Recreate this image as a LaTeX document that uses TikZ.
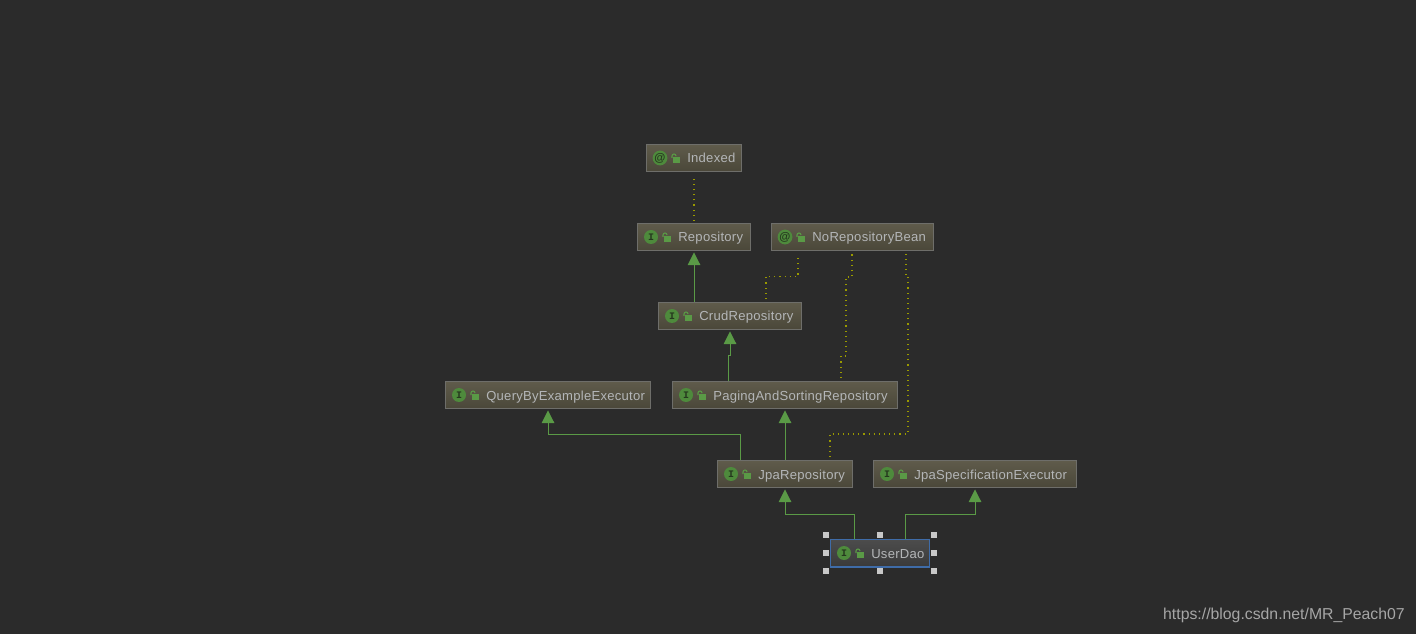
\documentclass[tikz,border=0pt]{standalone}
\usepackage{fontspec}
\setmainfont{Liberation Sans}[LetterSpace=2]
\newfontfamily\wmfont{Liberation Sans}
\newfontfamily\monof{Liberation Mono}
\newfontfamily\glyphf{Liberation Sans}
\usetikzlibrary{arrows.meta,calc}
\definecolor{bgc}{HTML}{2B2B2B}
\definecolor{boxtop}{HTML}{5F5B4B}
\definecolor{boxbot}{HTML}{4A4739}
\definecolor{boxline}{HTML}{6E6E6A}
\definecolor{seltop}{HTML}{4C4C4C}
\definecolor{selbot}{HTML}{3A3A3A}
\definecolor{selline}{HTML}{3F6CA8}
\definecolor{txt}{HTML}{B4B6B8}
\definecolor{icong}{HTML}{4E8A3C}
\definecolor{glyphc}{HTML}{25381E}
\definecolor{lockg}{HTML}{5A9A46}
\definecolor{edgeg}{HTML}{5A9A46}
\definecolor{dotc}{HTML}{9A9A00}
\definecolor{handle}{HTML}{C8C8C8}
\definecolor{wmc}{HTML}{A6A6A6}
\tikzset{
  x=0.75pt,y=-0.75pt,
  cbox/.style={draw=boxline,line width=0.75pt,top color=boxtop,bottom color=boxbot,inner sep=0pt,minimum height=20.6pt,anchor=north west},
  selbox/.style={draw=selline,line width=0.9pt,top color=seltop,bottom color=selbot,inner sep=0pt,minimum height=20.6pt,anchor=north west},
  ctext/.style={text=txt,font=\fontsize{9.8pt}{11pt}\selectfont,inner sep=0pt,anchor=base west},
  cicon/.style={circle,fill=icong,minimum size=10.5pt,inner sep=0pt,text=glyphc},
  iglyph/.style={cicon,font=\monof\bfseries\fontsize{7.5pt}{8pt}\selectfont},
  atglyph/.style={cicon,font=\glyphf\bfseries\fontsize{8.5pt}{9pt}\selectfont},
  extends/.style={draw=edgeg,line width=0.7pt,-{Triangle[length=9.5pt,width=9.5pt,fill=edgeg]}},
  annot/.style={draw=dotc,line width=0.85pt,dash pattern=on 0.85pt off 3pt},
  handlebox/.style={fill=handle,minimum size=3.9pt,inner sep=0pt},
}
% \cls{name}{left px}{top px}{width px}{glyph style}{glyph}{label}{box style}
\newcommand{\cls}[8]{%
  \node[#8,minimum width=#4*0.75pt-0.75pt] (#1) at (#2,#3) {};
  \node[#5] (#1i) at ($(#2,#3)+(14,14)$) {#6};
  \fill[lockg] ($(#2,#3)+(26.5,13)$) rectangle ($(#2,#3)+(33.5,19)$);
  \draw[lockg,line width=0.8pt] ($(#2,#3)+(26,14)$) -- ($(#2,#3)+(26,12)$) arc[start angle=180,end angle=360,x radius=2,y radius=2];
  \node[ctext] (#1t) at ($(#2,#3)+(41,19)$) {#7};
}
\begin{document}
\begin{tikzpicture}
\useasboundingbox[fill=bgc] (0,0) rectangle (1416,634);
\cls{indexed}{646}{144}{96}{atglyph}{@}{Indexed}{cbox}
\cls{repository}{637}{223}{114}{iglyph}{I}{Repository}{cbox}
\cls{norepo}{771}{223}{163}{atglyph}{@}{NoRepositoryBean}{cbox}
\cls{crud}{658}{302}{144}{iglyph}{I}{CrudRepository}{cbox}
\cls{query}{445}{381}{206}{iglyph}{I}{QueryByExampleExecutor}{cbox}
\cls{paging}{672}{381}{226}{iglyph}{I}{PagingAndSortingRepository}{cbox}
\cls{jpa}{717}{460}{136}{iglyph}{I}{JpaRepository}{cbox}
\cls{spec}{873}{460}{204}{iglyph}{I}{JpaSpecificationExecutor}{cbox}
\cls{userdao}{830}{539}{100}{iglyph}{I}{UserDao}{selbox}
% dotted
\draw[annot] ($(repository.north west)+(57,-2)$) -- ($(indexed.south west)+(48,4)$);
\draw[annot] ($(crud.north west)+(108,-3)$) |- ($(norepo.south west)+(27,25)$) -- ($(norepo.south west)+(27,4)$);
\draw[annot] ($(paging.north west)+(169,-3)$) -- ++(0,-22) -- ++(5,0) -- ++(0,-79) -- ++(6,0) -- ($(norepo.south west)+(81,3)$);
\draw[annot] ($(jpa.north west)+(113,-3)$) -- ++(0,-23) -- ++(78,0) -- ++(0,-158) -- ++(-2,0) -- ($(norepo.south west)+(135,3)$);
% solid
\draw[extends] ($(crud.north west)+(36,0)$) -- ($(repository.south west)+(57,1)$);
\draw[extends] ($(paging.north west)+(56,0)$) -- ++(0,-26) -- ++(2,0) -- ($(crud.south west)+(72,1)$);
\draw[extends] ($(jpa.north west)+(68,0)$) -- ($(paging.south west)+(113,1)$);
\draw[extends] ($(jpa.north west)+(23,0)$) -- ++(0,-26) -| ($(query.south west)+(103,1)$);
\draw[extends] ($(userdao.north west)+(24,0)$) -- ++(0,-25) -| ($(jpa.south west)+(68,1)$);
\draw[extends] ($(userdao.north west)+(75,0)$) -- ++(0,-25) -| ($(spec.south west)+(102,1)$);
% handles
\foreach \n/\hx/\hy in {h1/826/535,h2/880/535,h3/934/535,h4/826/553,h5/934/553,h6/826/571,h7/880/571,h8/934/571}
  \node[handlebox] (\n) at (\hx,\hy) {};
\node[anchor=east,inner sep=0pt,text=wmc,font=\wmfont\fontsize{11.85pt}{14pt}\selectfont] (wm) at (1405,615) {https://blog.csdn.net/MR\_Peach07};
\end{tikzpicture}
\end{document}
